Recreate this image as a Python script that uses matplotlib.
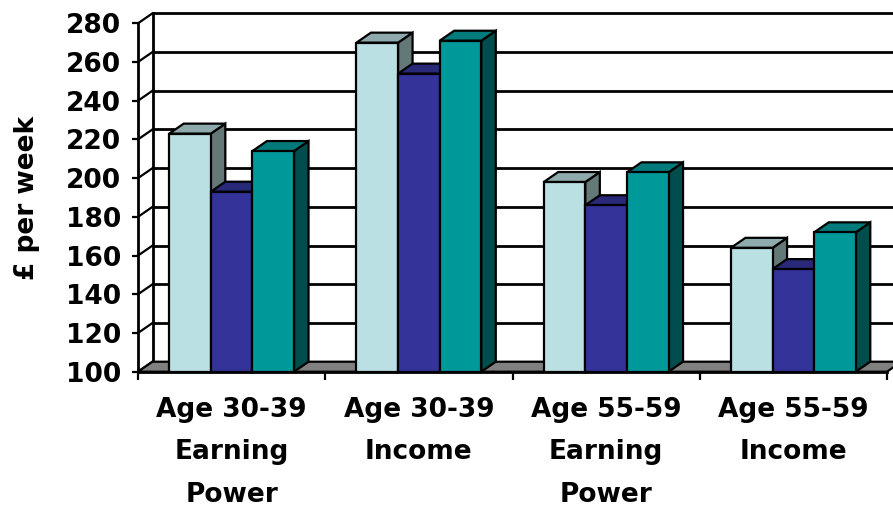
import matplotlib

matplotlib.use("Agg")
import matplotlib.pyplot as plt
from matplotlib.patches import Polygon

# Data
categories = [
    "Age 30-39\nEarning\nPower",
    "Age 30-39\nIncome",
    "Age 55-59\nEarning\nPower",
    "Age 55-59\nIncome",
]
series_a = [223, 270, 198, 164]
series_b = [193, 254, 186, 153]
series_c = [214, 271, 203, 172]
y_ticks = [100, 120, 140, 160, 180, 200, 220, 240, 260, 280]

# Face colours: (front, top, side)
COLORS = [
    ("#BBE0E3", "#8FAAAC", "#647878"),
    ("#333399", "#29297A", "#1F1F5C"),
    ("#009999", "#007A7A", "#004D4D"),
]
FLOOR_COLOR = "#808080"
DEPTH_PX = (14.5, 10.0)  # 3D depth offset in pixels
BAR_W = 1 / 4.5
LW = 1.6

plt.rcParams["font.family"] = ["DejaVu Sans"]
plt.rcParams["font.weight"] = "bold"

W, H = 893, 507
fig = plt.figure(figsize=(W / 100, H / 100), dpi=100)
ax = fig.add_axes([138 / W, (H - 371.7) / H, 749 / W, 348.4 / H])
ax.set_xlim(0, len(categories))
ax.set_ylim(y_ticks[0], y_ticks[-1])

# pixel depth -> data units
dx = DEPTH_PX[0] * len(categories) / 749
dy = DEPTH_PX[1] * (y_ticks[-1] - y_ticks[0]) / 348.4
x0, x1 = ax.get_xlim()
y0, y1 = ax.get_ylim()


def poly(pts, color, z, lw=LW):
    ax.add_patch(Polygon(pts, closed=True, facecolor=color, edgecolor="black",
                         linewidth=lw, zorder=z, clip_on=False, joinstyle="miter"))


# back wall gridlines
for t in y_ticks:
    ax.plot([x0 + dx, x1 + dx + 1], [t + dy, t + dy], color="black", lw=2,
            zorder=1, clip_on=False, solid_capstyle="butt")
    # left wall diagonals
    ax.plot([x0, x0 + dx], [t, t + dy], color="black", lw=1.6, zorder=1, clip_on=False)
ax.plot([x0 + dx, x0 + dx], [y0 + dy, y1 + dy], color="black", lw=2, zorder=1, clip_on=False)

# floor
poly([(x0, y0), (x1, y0), (x1 + dx, y0 + dy), (x0 + dx, y0 + dy)], FLOOR_COLOR, 2)

# bars
z = 3
for gi in range(len(categories)):
    for si, vals in enumerate([series_a, series_b, series_c]):
        front, top, side = COLORS[si]
        left = gi + (1 - 3 * BAR_W) / 2 + si * BAR_W
        v = vals[gi]
        right = left + BAR_W
        poly([(right, y0), (right + dx, y0 + dy), (right + dx, v + dy), (right, v)], side, z)
        poly([(left, v), (right, v), (right + dx, v + dy), (left + dx, v + dy)], top, z)
        ax.bar(left, v - y0, width=BAR_W, bottom=y0, align="edge", color=front,
               edgecolor="black", linewidth=LW, zorder=z, clip_on=False)
        z += 1

# axes styling
for s in ["top", "right"]:
    ax.spines[s].set_visible(False)
ax.spines["left"].set_linewidth(2)
ax.spines["bottom"].set_linewidth(2)
ax.spines["left"].set_zorder(50)
ax.spines["bottom"].set_zorder(50)
ax.patch.set_visible(False)

ax.set_yticks(y_ticks)
ax.tick_params(axis="y", length=4, width=1.6, pad=8, labelsize=19)
ax.set_xticks(range(len(categories) + 1))
ax.set_xticks([i + 0.5 for i in range(len(categories))], minor=True)
ax.set_xticklabels([])
ax.set_xticklabels(categories, minor=True, fontsize=19, linespacing=1.82, va="top")
ax.tick_params(axis="x", which="major", length=6, width=1.6, direction="out")
ax.tick_params(axis="x", which="minor", length=0, pad=18)
ax.set_ylabel("£ per week", fontsize=19, fontweight="bold")
ax.yaxis.set_label_coords((40 - 138) / 749, 0.5)

fig.savefig("out.png", dpi=100)
